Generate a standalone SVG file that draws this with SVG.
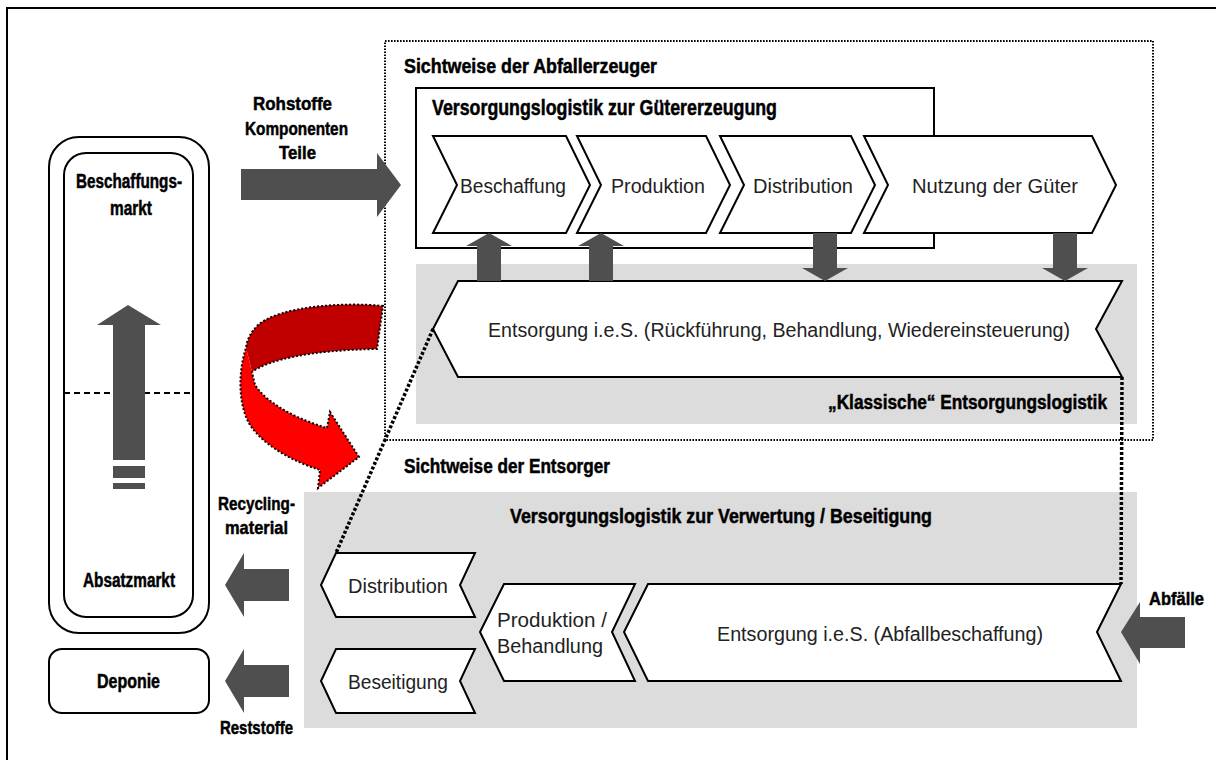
<svg xmlns="http://www.w3.org/2000/svg" width="1216" height="760" viewBox="0 0 1216 760">
  <style>
    .b { font-family: "Liberation Sans", Arial, sans-serif; font-weight: bold; fill: #000; stroke: #000; stroke-width: 0.5; }
    .r { font-family: "Liberation Sans", Arial, sans-serif; font-size: 20px; fill: #222; }
    .panel { fill: #dcdcdc; stroke: none; }
    .step { fill: #fff; stroke: #000; stroke-width: 2; stroke-linejoin: miter; }
    .flow { fill: #4f4f4f; stroke: none; }
    .box { fill: #fff; stroke: #000; stroke-width: 2; }
    .fine-dots { fill: none; stroke: #000; stroke-width: 2; stroke-dasharray: 1.6 1.4; }
    .heavy-dots { fill: none; stroke: #000; stroke-width: 3.5; stroke-dasharray: 3 2; }
  </style>

  <!-- page frame -->
  <path d="M7,760 V8 H1216" fill="none" stroke="#000" stroke-width="2"/>

  <!-- grey background panels -->
  <g id="panel-klassisch">
    <rect class="panel" x="416" y="264" width="721" height="160"/>
  </g>
  <g id="panel-entsorger">
    <rect class="panel" x="304" y="492" width="833" height="236"/>
  </g>

  <!-- perspective of the waste producers -->
  <g id="sicht-abfallerzeuger">
    <rect class="fine-dots" x="385" y="41" width="768" height="399"/>
    <text class="b" x="404" y="73" font-size="20" textLength="253" lengthAdjust="spacingAndGlyphs">Sichtweise der Abfallerzeuger</text>
  </g>

  <g id="versorgung-gueter">
    <rect class="box" x="416" y="88" width="518" height="160"/>
    <text class="b" x="432" y="115" font-size="22" textLength="345" lengthAdjust="spacingAndGlyphs">Versorgungslogistik zur Gütererzeugung</text>
  </g>

  <g id="step-beschaffung">
    <polygon class="step" points="433,136 566,136 590,185 566,233 433,233 457,185"/>
    <text class="r" x="460" y="193" textLength="106" lengthAdjust="spacingAndGlyphs">Beschaffung</text>
  </g>
  <g id="step-produktion">
    <polygon class="step" points="577,136 706,136 730,185 706,233 577,233 601,185"/>
    <text class="r" x="611" y="193" textLength="94" lengthAdjust="spacingAndGlyphs">Produktion</text>
  </g>
  <g id="step-distribution">
    <polygon class="step" points="720,136 851,136 875,185 851,233 720,233 744,185"/>
    <text class="r" x="753" y="193" textLength="100" lengthAdjust="spacingAndGlyphs">Distribution</text>
  </g>
  <g id="step-nutzung">
    <polygon class="step" points="864,136 1092,136 1116,185 1092,233 864,233 888,185"/>
    <text class="r" x="912" y="193" textLength="166" lengthAdjust="spacingAndGlyphs">Nutzung der Güter</text>
  </g>

  <g id="entsorgung-ies-klassisch">
    <polygon class="step" points="458,281 1122,281 1096,329 1122,377 458,377 433,329"/>
    <text class="r" x="488" y="337" textLength="582" lengthAdjust="spacingAndGlyphs">Entsorgung i.e.S. (Rückführung, Behandlung, Wiedereinsteuerung)</text>
  </g>
  <g id="label-klassisch">
    <text class="b" x="828" y="409" font-size="20" textLength="279" lengthAdjust="spacingAndGlyphs">„Klassische“ Entsorgungslogistik</text>
  </g>

  <!-- perspective of the disposers -->
  <g id="sicht-entsorger">
    <text class="b" x="404" y="473" font-size="20" textLength="206" lengthAdjust="spacingAndGlyphs">Sichtweise der Entsorger</text>
    <text class="b" x="510" y="523" font-size="21" textLength="422" lengthAdjust="spacingAndGlyphs">Versorgungslogistik zur Verwertung / Beseitigung</text>
  </g>

  <g id="step-distribution-2">
    <polygon class="step" points="336,553 475,553 460,585 475,617 336,617 321,585"/>
    <text class="r" x="348" y="593" textLength="100" lengthAdjust="spacingAndGlyphs">Distribution</text>
  </g>
  <g id="step-beseitigung">
    <polygon class="step" points="336,649 475,649 460,681 475,713 336,713 321,681"/>
    <text class="r" x="348" y="689" textLength="100" lengthAdjust="spacingAndGlyphs">Beseitigung</text>
  </g>
  <g id="step-behandlung">
    <polygon class="step" points="504,584 635,584 612,632 635,681 504,681 480,632"/>
    <text class="r" x="497" y="627" textLength="110" lengthAdjust="spacingAndGlyphs">Produktion /</text>
    <text class="r" x="497" y="653" textLength="106" lengthAdjust="spacingAndGlyphs">Behandlung</text>
  </g>
  <g id="step-abfallbeschaffung">
    <polygon class="step" points="648,584 1121,584 1097,632 1121,681 648,681 624,632"/>
    <text class="r" x="717" y="641" textLength="326" lengthAdjust="spacingAndGlyphs">Entsorgung i.e.S. (Abfallbeschaffung)</text>
  </g>

  <!-- markets on the left -->
  <g id="markt">
    <rect class="box" x="49" y="137" width="160" height="496" rx="30"/>
    <rect class="box" x="64" y="153" width="129" height="464" rx="22"/>
    <line x1="64" y1="393" x2="193" y2="393" stroke="#000" stroke-width="2" stroke-dasharray="6 4"/>
    <polygon class="flow" points="128,305 161,325 145,325 145,460 113,460 113,325 97,325"/>
    <rect class="flow" x="113" y="466" width="32" height="12"/>
    <rect class="flow" x="113" y="483" width="32" height="6"/>
    <text class="b" x="76" y="188" font-size="20" textLength="106" lengthAdjust="spacingAndGlyphs">Beschaffungs-</text>
    <text class="b" x="110" y="215" font-size="20" textLength="42" lengthAdjust="spacingAndGlyphs">markt</text>
    <text class="b" x="83" y="587" font-size="20" textLength="92" lengthAdjust="spacingAndGlyphs">Absatzmarkt</text>
  </g>
  <g id="deponie">
    <rect class="box" x="49" y="649" width="160" height="64" rx="13"/>
    <text class="b" x="97" y="688" font-size="20" textLength="63" lengthAdjust="spacingAndGlyphs">Deponie</text>
  </g>

  <!-- connectors -->
  <g id="connectors">
    <!-- material inflow -->
    <polygon class="flow" points="401,185 377,153 377,169 241,169 241,200 377,200 377,217"/>
    <text class="b" x="253" y="110" font-size="19" textLength="79" lengthAdjust="spacingAndGlyphs">Rohstoffe</text>
    <text class="b" x="245" y="135" font-size="19" textLength="103" lengthAdjust="spacingAndGlyphs">Komponenten</text>
    <text class="b" x="279" y="159" font-size="19" textLength="37" lengthAdjust="spacingAndGlyphs">Teile</text>

    <!-- exchange between goods logistics and disposal -->
    <polygon class="flow" points="489,233 512,246 501,246 501,281 477,281 477,246 466,246"/>
    <polygon class="flow" points="601,233 624,246 613,246 613,281 589,281 589,246 578,246"/>
    <polygon class="flow" points="825,281 848,268 837,268 837,233 813,233 813,268 802,268"/>
    <polygon class="flow" points="1065,281 1088,268 1077,268 1077,233 1053,233 1053,268 1042,268"/>

    <!-- outputs to markets -->
    <polygon class="flow" points="225,585 244,553 244,569 289,569 289,601 244,601 244,617"/>
    <polygon class="flow" points="225,681 244,649 244,665 289,665 289,697 244,697 244,713"/>
    <text class="b" x="218" y="510" font-size="19" textLength="77" lengthAdjust="spacingAndGlyphs">Recycling-</text>
    <text class="b" x="225" y="534" font-size="19" textLength="63" lengthAdjust="spacingAndGlyphs">material</text>
    <text class="b" x="220" y="734" font-size="19" textLength="73" lengthAdjust="spacingAndGlyphs">Reststoffe</text>

    <!-- waste input -->
    <polygon class="flow" points="1121,632 1140,602 1140,617 1185,617 1185,648 1140,648 1140,664"/>
    <text class="b" x="1149" y="605" font-size="19" textLength="55" lengthAdjust="spacingAndGlyphs">Abfälle</text>

    <!-- change of perspective -->
    <path d="M383,306 C345,302 280,306 258,325 C250,333 247,340 246,348 L252,372 C268,360 310,350 377,349 Z" fill="#c00000"/>
    <path d="M246,348 C238,372 238,405 250,425 C265,447 295,462 320,470 L318,488 L359,457 L330,412 L327,428 C300,420 268,405 255,385 L252,372 Z" fill="#ff0000"/>
    <path d="M383,306 C345,302 280,306 258,325 C250,333 247,340 246,348 C238,372 238,405 250,425 C265,447 295,462 320,470 L318,488 L359,457 L330,412 L327,428 C300,420 268,405 255,385 L252,372 C268,360 310,350 377,349 Z" fill="none" stroke="#000" stroke-width="2" stroke-dasharray="2 2"/>

    <!-- correspondences between both views -->
    <line class="heavy-dots" x1="433" y1="329" x2="336" y2="553"/>
    <line class="heavy-dots" x1="1122" y1="377" x2="1121" y2="584"/>
  </g>
</svg>
